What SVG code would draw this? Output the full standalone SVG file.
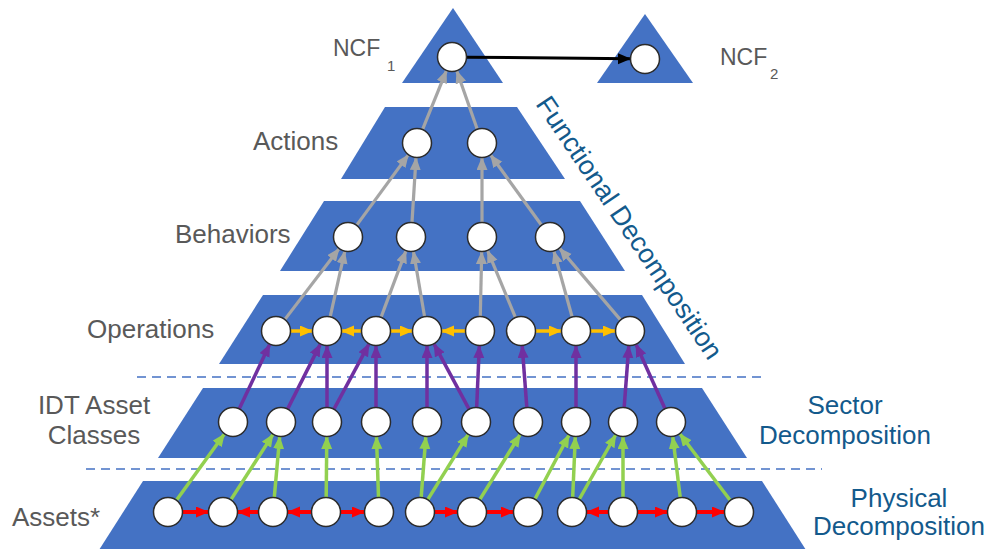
<svg xmlns="http://www.w3.org/2000/svg" width="992" height="549" viewBox="0 0 992 549">
<style>
.layer{fill:#4472C4}
.node circle{fill:#fff;stroke:#2b2b2b;stroke-width:1.5}
.lbl{font-family:"Liberation Sans",Arial,sans-serif;fill:#595959;font-size:26px}
.blue{font-family:"Liberation Sans",Arial,sans-serif;fill:#135A8C;font-size:26px}
.dash{stroke:#4472C4;stroke-width:1.6;stroke-dasharray:9 6;fill:none}
.cg line{stroke:#A5A5A5;stroke-width:3.2;marker-end:url(#mG)}
.cy line{stroke:#FFC000;stroke-width:3.5;marker-end:url(#mY)}
.cp line{stroke:#7030A0;stroke-width:3.5;marker-end:url(#mP)}
.cn line{stroke:#92D050;stroke-width:3.5;marker-end:url(#mN)}
.cr line{stroke:#FF0000;stroke-width:4;marker-end:url(#mR)}
.ck line{stroke:#000;stroke-width:3;marker-end:url(#mK)}
</style>
<defs>
<marker id="mG" markerUnits="userSpaceOnUse" markerWidth="14" markerHeight="12" refX="12" refY="5.5" orient="auto"><path d="M0,0 L13,5.5 L0,11 z" fill="#A5A5A5"/></marker>
<marker id="mY" markerUnits="userSpaceOnUse" markerWidth="14" markerHeight="12" refX="12" refY="5.5" orient="auto"><path d="M0,0 L13,5.5 L0,11 z" fill="#FFC000"/></marker>
<marker id="mP" markerUnits="userSpaceOnUse" markerWidth="14" markerHeight="12" refX="12" refY="5.5" orient="auto"><path d="M0,0 L13,5.5 L0,11 z" fill="#7030A0"/></marker>
<marker id="mN" markerUnits="userSpaceOnUse" markerWidth="14" markerHeight="12" refX="12" refY="5.5" orient="auto"><path d="M0,0 L13,5.5 L0,11 z" fill="#92D050"/></marker>
<marker id="mR" markerUnits="userSpaceOnUse" markerWidth="14" markerHeight="12" refX="12" refY="5.5" orient="auto"><path d="M0,0 L13,5.5 L0,11 z" fill="#FF0000"/></marker>
<marker id="mK" markerUnits="userSpaceOnUse" markerWidth="14" markerHeight="12" refX="12" refY="5.5" orient="auto"><path d="M0,0 L13,5.5 L0,11 z" fill="#000"/></marker>
</defs>
<rect width="992" height="549" fill="#fff"/>

<g id="layers">
<polygon class="layer" points="453,8 503,83 402,83"/>
<polygon class="layer" points="645,14 693,83 597,83"/>
<polygon class="layer" points="385,107 517,107 565,179 341,179"/>
<polygon class="layer" points="324,201 580,201 625,271 280,271"/>
<polygon class="layer" points="263,295 642,295 685,364 219,364"/>
<polygon class="layer" points="203,388 702,388 747,458 158,458"/>
<polygon class="layer" points="143,481 762,481 806,550 99,550"/>
</g>

<g id="separators">
<line class="dash" x1="137" y1="377" x2="762" y2="377"/>
<line class="dash" x1="86" y1="469" x2="822" y2="469"/>
</g>

<g id="labels">
<text class="lbl" x="333" y="56" style="font-size:23px">NCF</text>
<text class="lbl" x="387" y="71" style="font-size:15px">1</text>
<text class="lbl" x="720" y="65" style="font-size:23px">NCF</text>
<text class="lbl" x="770" y="79" style="font-size:15px">2</text>
<text class="lbl" x="253" y="150">Actions</text>
<text class="lbl" x="175" y="243">Behaviors</text>
<text class="lbl" x="87" y="338">Operations</text>
<text class="lbl" x="94" y="414" text-anchor="middle">IDT Asset</text>
<text class="lbl" x="94" y="444" text-anchor="middle">Classes</text>
<text class="lbl" x="12" y="526">Assets*</text>
<text class="blue" transform="translate(535,104) rotate(56)" style="font-size:27px">Functional Decomposition</text>
<text class="blue" x="845" y="414" text-anchor="middle">Sector</text>
<text class="blue" x="845" y="444" text-anchor="middle">Decomposition</text>
<text class="blue" x="899" y="507" text-anchor="middle">Physical</text>
<text class="blue" x="899" y="535" text-anchor="middle">Decomposition</text>
</g>

<g id="connectors">
<g class="ck">
<line x1="467" y1="57.2" x2="630" y2="58.8"/>
</g>
<g class="cg">
<line x1="422.7" y1="129.1" x2="446.3" y2="70.9"/>
<line x1="477.1" y1="128.8" x2="456.9" y2="71.2"/>
<line x1="356.9" y1="224.9" x2="408.1" y2="155.1"/>
<line x1="412" y1="222" x2="416" y2="158"/>
<line x1="482" y1="222" x2="482" y2="158"/>
<line x1="541.2" y1="224.8" x2="490.8" y2="155.2"/>
<line x1="285.1" y1="319.1" x2="338.9" y2="248.9"/>
<line x1="330.3" y1="316.4" x2="344.7" y2="251.6"/>
<line x1="381.2" y1="316.9" x2="405.8" y2="251.1"/>
<line x1="424.5" y1="316.2" x2="413.5" y2="251.8"/>
<line x1="480.3" y1="316" x2="481.7" y2="252"/>
<line x1="515.3" y1="317.2" x2="487.7" y2="250.8"/>
<line x1="572" y1="316.5" x2="554" y2="251.5"/>
<line x1="620.3" y1="319.6" x2="559.7" y2="248.4"/>
</g>
<g class="cy">
<line x1="291" y1="331" x2="312" y2="331"/>
<line x1="361" y1="331" x2="342" y2="331"/>
<line x1="391" y1="331" x2="412" y2="331"/>
<line x1="465" y1="331" x2="442" y2="331"/>
<line x1="536" y1="331" x2="561" y2="331"/>
<line x1="591" y1="331" x2="615" y2="331"/>
</g>
<g class="cp">
<line x1="239.4" y1="408.4" x2="269.6" y2="344.6"/>
<line x1="287.8" y1="408.6" x2="320.2" y2="344.4"/>
<line x1="327" y1="407" x2="327" y2="346"/>
<line x1="334.1" y1="408.8" x2="368.9" y2="344.2"/>
<line x1="376" y1="407" x2="376" y2="346"/>
<line x1="427" y1="407" x2="427" y2="346"/>
<line x1="468.9" y1="408.8" x2="434.1" y2="344.2"/>
<line x1="476.7" y1="407" x2="479.3" y2="346"/>
<line x1="526.8" y1="407" x2="522.2" y2="346"/>
<line x1="576" y1="407" x2="576" y2="346"/>
<line x1="624.2" y1="407" x2="628.8" y2="346"/>
<line x1="664.8" y1="408.3" x2="636.2" y2="344.7"/>
</g>
<g class="cn">
<line x1="176.8" y1="499.8" x2="224.2" y2="434.2"/>
<line x1="231.1" y1="499.4" x2="272.9" y2="434.6"/>
<line x1="274.3" y1="497.1" x2="279.7" y2="436.9"/>
<line x1="326.2" y1="497" x2="326.8" y2="437"/>
<line x1="378.5" y1="497" x2="376.5" y2="437"/>
<line x1="421.2" y1="497" x2="425.8" y2="437"/>
<line x1="427.9" y1="499.3" x2="468.1" y2="434.7"/>
<line x1="479.9" y1="499.3" x2="520.1" y2="434.7"/>
<line x1="535.1" y1="498.8" x2="568.9" y2="435.2"/>
<line x1="572.7" y1="497" x2="575.3" y2="437"/>
<line x1="579.4" y1="499" x2="615.6" y2="435"/>
<line x1="623" y1="497" x2="623" y2="437"/>
<line x1="680.2" y1="497.1" x2="672.8" y2="436.9"/>
<line x1="730" y1="500" x2="680" y2="434"/>
</g>
<g class="cr">
<line x1="183" y1="512" x2="208" y2="512"/>
<line x1="258" y1="512" x2="238" y2="512"/>
<line x1="311" y1="512" x2="288" y2="512"/>
<line x1="341" y1="512" x2="364" y2="512"/>
<line x1="435" y1="512" x2="457" y2="512"/>
<line x1="487" y1="512" x2="513" y2="512"/>
<line x1="608" y1="512" x2="587" y2="512"/>
<line x1="638" y1="512" x2="667" y2="512"/>
<line x1="697" y1="512" x2="724" y2="512"/>
</g>
</g>

<g id="ncf1" class="node"><circle cx="452" cy="57" r="14.5"/></g>
<g id="ncf2" class="node"><circle cx="645" cy="59" r="14.5"/></g>
<g id="action1" class="node"><circle cx="417" cy="143" r="14.5"/></g>
<g id="action2" class="node"><circle cx="482" cy="143" r="14.5"/></g>
<g id="behavior1" class="node"><circle cx="348" cy="237" r="14.5"/></g>
<g id="behavior2" class="node"><circle cx="411" cy="237" r="14.5"/></g>
<g id="behavior3" class="node"><circle cx="482" cy="237" r="14.5"/></g>
<g id="behavior4" class="node"><circle cx="550" cy="237" r="14.5"/></g>
<g id="op1" class="node"><circle cx="276" cy="331" r="14.5"/></g>
<g id="op2" class="node"><circle cx="327" cy="331" r="14.5"/></g>
<g id="op3" class="node"><circle cx="376" cy="331" r="14.5"/></g>
<g id="op4" class="node"><circle cx="427" cy="331" r="14.5"/></g>
<g id="op5" class="node"><circle cx="480" cy="331" r="14.5"/></g>
<g id="op6" class="node"><circle cx="521" cy="331" r="14.5"/></g>
<g id="op7" class="node"><circle cx="576" cy="331" r="14.5"/></g>
<g id="op8" class="node"><circle cx="630" cy="331" r="14.5"/></g>
<g id="idt1" class="node"><circle cx="233" cy="422" r="14.5"/></g>
<g id="idt2" class="node"><circle cx="281" cy="422" r="14.5"/></g>
<g id="idt3" class="node"><circle cx="327" cy="422" r="14.5"/></g>
<g id="idt4" class="node"><circle cx="376" cy="422" r="14.5"/></g>
<g id="idt5" class="node"><circle cx="427" cy="422" r="14.5"/></g>
<g id="idt6" class="node"><circle cx="476" cy="422" r="14.5"/></g>
<g id="idt7" class="node"><circle cx="528" cy="422" r="14.5"/></g>
<g id="idt8" class="node"><circle cx="576" cy="422" r="14.5"/></g>
<g id="idt9" class="node"><circle cx="623" cy="422" r="14.5"/></g>
<g id="idt10" class="node"><circle cx="671" cy="422" r="14.5"/></g>
<g id="asset1" class="node"><circle cx="168" cy="512" r="14.5"/></g>
<g id="asset2" class="node"><circle cx="223" cy="512" r="14.5"/></g>
<g id="asset3" class="node"><circle cx="273" cy="512" r="14.5"/></g>
<g id="asset4" class="node"><circle cx="326" cy="512" r="14.5"/></g>
<g id="asset5" class="node"><circle cx="379" cy="512" r="14.5"/></g>
<g id="asset6" class="node"><circle cx="420" cy="512" r="14.5"/></g>
<g id="asset7" class="node"><circle cx="472" cy="512" r="14.5"/></g>
<g id="asset8" class="node"><circle cx="528" cy="512" r="14.5"/></g>
<g id="asset9" class="node"><circle cx="572" cy="512" r="14.5"/></g>
<g id="asset10" class="node"><circle cx="623" cy="512" r="14.5"/></g>
<g id="asset11" class="node"><circle cx="682" cy="512" r="14.5"/></g>
<g id="asset12" class="node"><circle cx="739" cy="512" r="14.5"/></g>
</svg>
